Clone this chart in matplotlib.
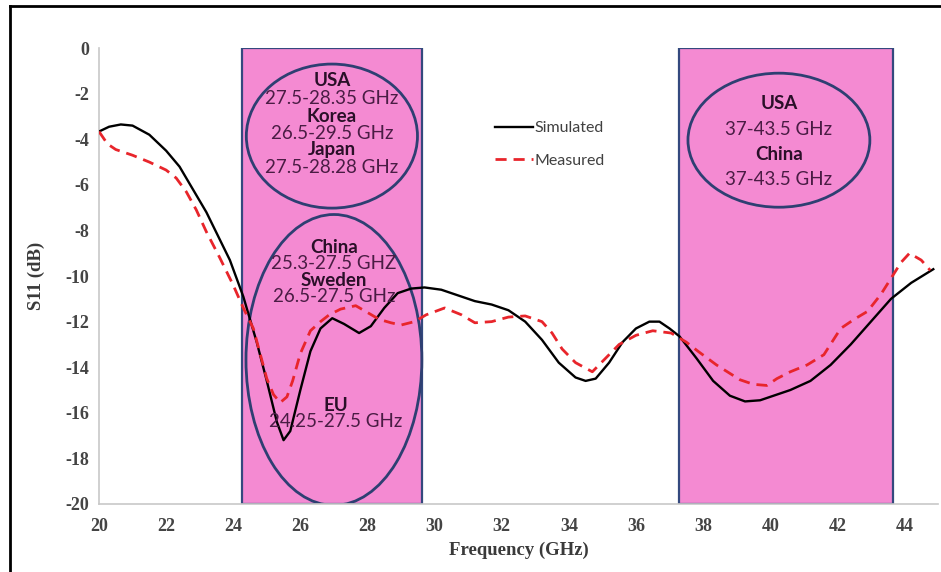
import matplotlib
matplotlib.use("Agg")
import matplotlib.pyplot as plt
from matplotlib.patches import Rectangle, Ellipse
from matplotlib.lines import Line2D

# Curvas (GHz, dB)
freq_sim = [20.0, 20.3, 20.65, 21.0, 21.5, 22.0, 22.4, 22.8, 23.2, 23.5, 23.9, 24.3,
            24.7, 25.0, 25.3, 25.5, 25.7, 26.0, 26.3, 26.6, 26.95, 27.3, 27.75, 28.1,
            28.5, 28.9, 29.3, 29.7, 30.2, 30.7, 31.2, 31.7, 32.2, 32.7, 33.2, 33.7,
            34.2, 34.5, 34.8, 35.2, 35.6, 36.0, 36.4, 36.7, 37.0, 37.3, 37.8, 38.3,
            38.8, 39.25, 39.7, 40.2, 40.6, 41.2, 41.8, 42.4, 43.0, 43.6, 44.2, 44.86]
s11_sim = [-3.66, -3.45, -3.35, -3.4, -3.8, -4.5, -5.2, -6.2, -7.2, -8.1, -9.3, -10.9,
           -12.9, -14.6, -16.4, -17.2, -16.8, -15.0, -13.3, -12.3, -11.85, -12.1, -12.5, -12.2,
           -11.4, -10.75, -10.55, -10.5, -10.6, -10.85, -11.1, -11.25, -11.5, -12.0, -12.8, -13.8,
           -14.45, -14.6, -14.5, -13.8, -12.9, -12.3, -12.0, -12.0, -12.3, -12.65, -13.6, -14.6,
           -15.25, -15.5, -15.45, -15.2, -15.0, -14.6, -13.9, -13.0, -12.0, -11.0, -10.3, -9.7]

freq_meas = [20.0, 20.25, 20.5, 21.0, 21.5, 22.0, 22.3, 22.6, 22.9, 23.2, 23.6, 24.0,
             24.3, 24.6, 25.0, 25.2, 25.4, 25.6, 25.77, 26.0, 26.3, 26.6, 26.86, 27.2,
             27.65, 28.0, 28.35, 28.7, 29.0, 29.4, 29.75, 30.3, 30.8, 31.2, 31.7, 32.2,
             32.7, 33.2, 33.5, 33.8, 34.2, 34.7, 35.1, 35.5, 36.0, 36.5, 37.05, 37.5,
             37.85, 38.4, 39.1, 39.5, 39.9, 40.2, 40.6, 41.1, 41.6, 42.1, 42.5, 42.9,
             43.3, 43.6, 43.9, 44.15, 44.5, 44.77]
s11_meas = [-3.66, -4.2, -4.45, -4.7, -5.0, -5.35, -5.7, -6.3, -7.1, -8.06, -9.2, -10.4,
            -11.4, -12.3, -14.5, -15.2, -15.55, -15.3, -14.6, -13.4, -12.4, -12.0, -11.7, -11.45,
            -11.3, -11.6, -11.9, -12.05, -12.15, -12.0, -11.7, -11.4, -11.7, -12.05, -12.0, -11.8,
            -11.75, -12.0, -12.5, -13.2, -13.8, -14.2, -13.6, -13.0, -12.6, -12.4, -12.5, -12.9,
            -13.3, -13.9, -14.55, -14.75, -14.8, -14.5, -14.2, -13.9, -13.45, -12.3, -11.9, -11.55,
            -10.8, -10.1, -9.4, -9.0, -9.3, -9.75]

# Faixas 5G (retângulos rosa)
bandas = [(24.26, 29.62), (37.28, 43.66)]

# Elipses: centro x, centro y, largura, altura
elipses = [(26.94, -3.86, 5.10, 6.32), (27.0, -13.68, 5.24, 12.76), (40.26, -4.04, 5.42, 5.88)]

# Textos: x, y, texto, negrito
textos = [
    (26.94, -1.40, "USA", True), (26.94, -2.19, "27.5-28.35 GHz", False),
    (26.94, -2.98, "Korea", True), (26.94, -3.73, "26.5-29.5 GHz", False),
    (26.94, -4.47, "Japan", True), (26.94, -5.22, "27.5-28.28 GHz", False),
    (27.0, -8.73, "China", True), (27.0, -9.47, "25.3-27.5 GHZ", False),
    (27.0, -10.18, "Sweden", True), (27.0, -10.88, "26.5-27.5 GHz", False),
    (27.06, -15.66, "EU", True), (27.06, -16.4, "24.25-27.5 GHz", False),
    (40.26, -2.41, "USA", True), (40.26, -3.55, "37-43.5 GHz", False),
    (40.26, -4.65, "China", True), (40.26, -5.75, "37-43.5 GHz", False),
]

xticks = list(range(20, 45, 2))
yticks = list(range(-20, 1, 2))

fig = plt.figure(figsize=(9.41, 5.72), dpi=100)
ax = fig.add_axes([0.1052, 0.1189, 0.8916, 0.797])

for x0, x1 in bandas:
    ax.add_patch(Rectangle((x0, -20), x1 - x0, 20, facecolor="#F48AD2",
                           edgecolor="#34497E", lw=1.6, zorder=1))

for cx, cy, w, h in elipses:
    ax.add_patch(Ellipse((cx, cy), w, h, facecolor="none", edgecolor="#2E3F72",
                         lw=2.0, zorder=2))

ax.plot(freq_sim, s11_sim, color="black", lw=1.7, zorder=3, label="Simulated")
ax.plot(freq_meas, s11_meas, color="#E8252B", lw=2.0, dashes=(4, 2.5), zorder=3,
        label="Measured")

for x, y, t, b in textos:
    ax.text(x, y, t, ha="center", va="center", fontsize=13.5, family="Lato",
            fontweight="bold" if b else "normal",
            color="#2a0f28" if b else "#4a1c44", zorder=4)

ax.set_xlim(20, 45)
ax.set_ylim(-20, 0)
ax.set_xticks(xticks)
ax.set_yticks(yticks)
ax.set_xticklabels([str(v) for v in xticks], family="Liberation Serif", fontsize=13,
                   fontweight="bold")
ax.set_yticklabels([str(v) for v in yticks], family="Liberation Serif", fontsize=13,
                   fontweight="bold")
ax.tick_params(length=0, colors="#444444")
ax.tick_params(axis="x", pad=10)
ax.tick_params(axis="y", pad=7)
for s in ["top", "right"]:
    ax.spines[s].set_visible(False)
for s in ["left", "bottom"]:
    ax.spines[s].set_color("#C8C8C8")
    ax.spines[s].set_linewidth(1.2)

ax.set_xlabel("Frequency (GHz)", family="Liberation Serif", fontsize=13.5, color="#3a3a3a",
              fontweight="bold", labelpad=5)
ax.set_ylabel("S11 (dB)", family="Liberation Serif", fontsize=13.5, color="#3a3a3a",
              fontweight="bold")
ax.yaxis.set_label_coords(-0.064, 0.5)

leg = ax.legend(loc="upper left", bbox_to_anchor=(0.472, 0.84), frameon=False,
                borderpad=0, borderaxespad=0, handlelength=2.4, handletextpad=0.1,
                labelspacing=1.15, prop={"family": "Lato", "size": 11.5})
for t in leg.get_texts():
    t.set_color("#404040")

# moldura preta da figura
fig.add_artist(Line2D([10 / 941, 10 / 941], [0, 1 - 6 / 572], color="black", lw=2))
fig.add_artist(Line2D([10 / 941, 1], [1 - 6 / 572, 1 - 6 / 572], color="black", lw=2))

fig.savefig("out.png", dpi=100)
